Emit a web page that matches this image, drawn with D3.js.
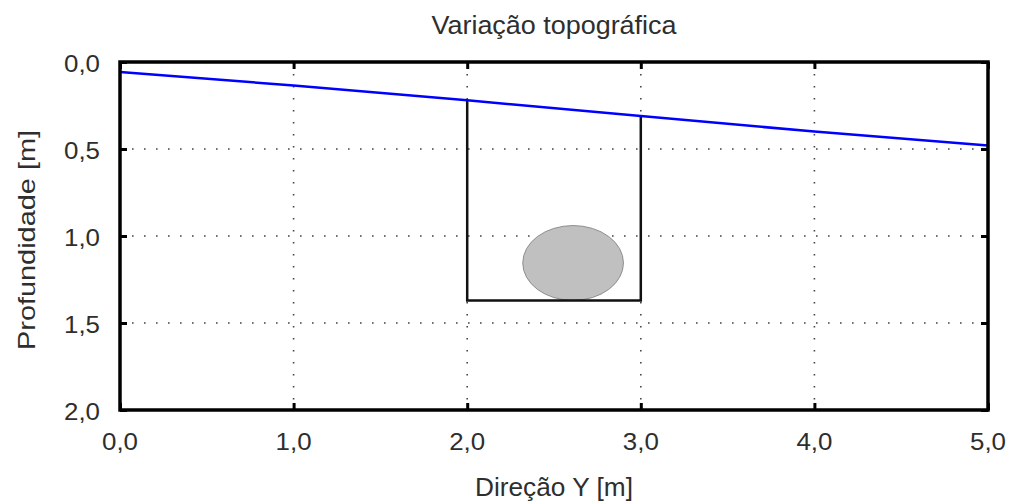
<!DOCTYPE html>
<html><head><meta charset="utf-8">
<script src="https://cdn.jsdelivr.net/npm/d3@7"></script>
<style>body{margin:0;background:#fff}text{font-family:"Liberation Sans",Arial,sans-serif;fill:#2e2e2e}</style>
</head><body><svg id="c" width="1011" height="504"></svg>
<script>
const surfaceX = [0, 1, 2, 3, 4, 5];
const surfaceDepth = [0.057, 0.135, 0.22, 0.31, 0.40, 0.48];
const trenchX = [2, 3];
const trenchBottom = 1.37;
const pipeCenter = [2.61, 1.155];
const pipeRadii = [0.29, 0.215];
const xTicks = [0, 1, 2, 3, 4, 5];
const yTicks = [0, 0.5, 1, 1.5, 2];
const title = "Variação topográfica";
const xTitle = "Direção Y [m]";
const yTitle = "Profundidade [m]";

const svg = d3.select("#c");
const L = 120, R = 988, T = 62, B = 410;
const x = d3.scaleLinear().domain([0, 5]).range([L, R]);
const y = d3.scaleLinear().domain([0, 2]).range([T, B]);
const fmt = d => d3.format(".1f")(d).replace(".", ",");

// grid
const g = svg.append("g");
g.selectAll(".gx").data(xTicks.slice(1, -1)).join("line")
  .attr("x1", d => x(d)).attr("x2", d => x(d)).attr("y1", T).attr("y2", B)
  .attr("stroke", "#444").attr("stroke-width", 1.6).attr("stroke-dasharray", "1.6,10.4");
g.selectAll(".gy").data(yTicks.slice(1, -1)).join("line")
  .attr("y1", d => y(d)).attr("y2", d => y(d)).attr("x1", L).attr("x2", R)
  .attr("stroke", "#444").attr("stroke-width", 1.6).attr("stroke-dasharray", "1.6,10.4");

// pipe
svg.append("ellipse")
  .attr("cx", x(pipeCenter[0])).attr("cy", y(pipeCenter[1]))
  .attr("rx", x(pipeCenter[0] + pipeRadii[0]) - x(pipeCenter[0]))
  .attr("ry", y(pipeCenter[1] + pipeRadii[1]) - y(pipeCenter[1]))
  .attr("fill", "#c0c0c0").attr("stroke", "#8e8e8e").attr("stroke-width", 1);

// trench
const surf = surfaceX.map((v, i) => [v, surfaceDepth[i]]);
const depthAt = xv => surfaceDepth[surfaceX.indexOf(xv)];
const trench = [[trenchX[0], depthAt(trenchX[0])], [trenchX[0], trenchBottom], [trenchX[1], trenchBottom], [trenchX[1], depthAt(trenchX[1])]];
const line = d3.line().x(d => x(d[0])).y(d => y(d[1]));
svg.append("path").attr("d", line(trench)).attr("fill", "none").attr("stroke", "#111").attr("stroke-width", 2.5);

// surface
svg.append("path").attr("d", line(surf)).attr("fill", "none").attr("stroke", "#0000ff").attr("stroke-width", 2.5);

// axes ticks
const axB = d3.axisBottom(x).tickValues(xTicks).tickSize(-7).tickFormat("");
const axT = d3.axisTop(x).tickValues(xTicks).tickSize(-7).tickFormat("");
const axL = d3.axisLeft(y).tickValues(yTicks).tickSize(-7).tickFormat("");
const axR = d3.axisRight(y).tickValues(yTicks).tickSize(-7).tickFormat("");
[[axB, `translate(0,${B})`], [axT, `translate(0,${T})`], [axL, `translate(${L},0)`], [axR, `translate(${R},0)`]].forEach(([a, t]) => {
  const gg = svg.append("g").attr("transform", t).call(a);
  gg.select(".domain").remove();
  gg.selectAll("line").attr("stroke", "#000").attr("stroke-width", 3);
});

// frame
svg.append("rect").attr("x", L).attr("y", T).attr("width", R - L).attr("height", B - T)
  .attr("fill", "none").attr("stroke", "#000").attr("stroke-width", 3.5);

// tick labels
svg.selectAll(".xl").data(xTicks).join("text")
  .attr("x", d => x(d)).attr("y", 450).attr("text-anchor", "middle")
  .attr("font-size", 24.5).attr("textLength", 36).attr("lengthAdjust", "spacingAndGlyphs").text(fmt);
svg.selectAll(".yl").data(yTicks).join("text")
  .attr("x", 100).attr("y", d => y(d) + 10).attr("text-anchor", "end")
  .attr("font-size", 24.5).attr("textLength", 36).attr("lengthAdjust", "spacingAndGlyphs").text(fmt);

// titles
svg.append("text").attr("x", 554).attr("y", 34).attr("text-anchor", "middle").attr("font-size", 25)
  .attr("textLength", 245).attr("lengthAdjust", "spacingAndGlyphs").text(title);
svg.append("text").attr("x", 554).attr("y", 496).attr("text-anchor", "middle").attr("font-size", 25)
  .attr("textLength", 158).attr("lengthAdjust", "spacingAndGlyphs").text(xTitle);
svg.append("text").attr("transform", "translate(35,240) rotate(-90)").attr("text-anchor", "middle").attr("font-size", 24)
  .attr("textLength", 220).attr("lengthAdjust", "spacingAndGlyphs").text(yTitle);
</script></body></html>
